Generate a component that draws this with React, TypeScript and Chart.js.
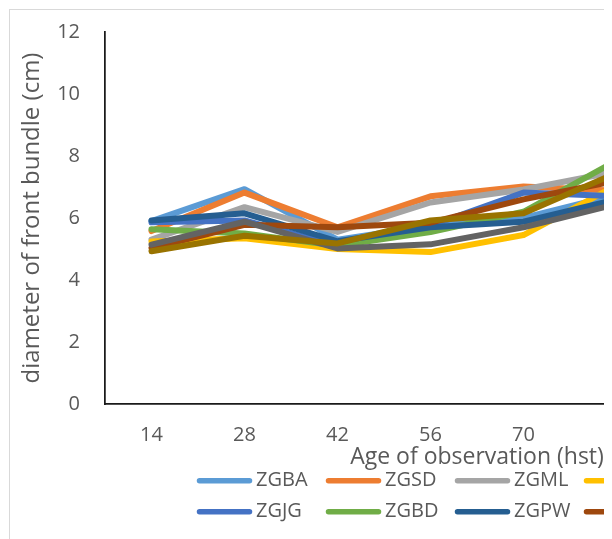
import { useEffect, useRef } from "react";
import { Chart, registerables } from "chart.js";

Chart.register(...registerables);

// Observation ages (days after planting)
const ages = ["14", "28", "42", "56", "70", "84", "98", "112"];

const seriesNames = ["ZGBA", "ZGSD", "ZGML", "ZGKR", "ZGJG", "ZGBD", "ZGPW", "ZGTM", "ZGLB", "ZGSB"];
const seriesColors = [
  "#5B9BD5", "#ED7D31", "#A5A5A5", "#FFC000", "#4472C4",
  "#70AD47", "#255E91", "#9E480E", "#636363", "#997300",
];

// Front bundle diameter (cm) per accession
const zgba = [5.9, 6.93, 5.3, 5.75, 6.0, 6.75, null, null];
const zgsd = [5.58, 6.82, 5.7, 6.7, 7.02, 6.88, null, null];
const zgml = [5.3, 6.35, 5.55, 6.5, 6.92, 7.5, null, null];
const zgkr = [5.24, 5.35, 5.0, 4.9, 5.45, 7.05, null, null];
const zgjg = [5.86, 5.92, 5.1, 5.75, 6.82, 6.7, null, null];
const zgbd = [5.64, 5.5, 5.1, 5.55, 6.2, 7.85, null, null];
const zgpw = [5.92, 6.15, 5.25, 5.7, 5.88, 6.6, null, null];
const zgtm = [5.03, 5.78, 5.7, 5.85, 6.6, 7.2, null, null];
const zglb = [5.14, 5.88, 5.02, 5.15, 5.7, 6.45, null, null];
const zgsb = [4.93, 5.43, 5.18, 5.92, 6.15, 7.45, null, null];

const seriesValues = [zgba, zgsd, zgml, zgkr, zgjg, zgbd, zgpw, zgtm, zglb, zgsb];

const yTicks = [0, 2, 4, 6, 8, 10, 12];

const FONT = "'Open Sans', 'Noto Sans', sans-serif";
const TEXT = "#595959";
const W = 900;
const H = 530;

// Legend laid out in fixed columns below the axis title
const columnLegend = {
  id: "columnLegend",
  afterDraw(chart: any) {
    const ctx = chart.ctx;
    const xs = chart.scales.x;
    const startX = 187;
    const colW = 129;
    const lineLen = 55;
    const rowGap = 31;
    const firstRow = xs.bottom + 9.3;
    ctx.save();
    ctx.font = `20px ${FONT}`;
    ctx.textBaseline = "middle";
    ctx.textAlign = "left";
    chart.data.datasets.forEach((ds: any, i: number) => {
      const row = Math.floor(i / 4);
      const col = i % 4;
      const y = firstRow + row * rowGap;
      if (y + 8 > chart.height) return;
      const x = startX + col * colW;
      ctx.strokeStyle = ds.borderColor;
      ctx.lineWidth = 5.5;
      ctx.lineCap = "round";
      ctx.beginPath();
      ctx.moveTo(x + 2.5, y);
      ctx.lineTo(x + lineLen - 2.5, y);
      ctx.stroke();
      ctx.fillStyle = TEXT;
      ctx.fillText(ds.label, x + 59, y);
    });
    ctx.restore();
  },
};

export default function App() {
  const canvasRef = useRef<HTMLCanvasElement | null>(null);

  useEffect(() => {
    const canvas = canvasRef.current;
    if (!canvas) return;
    const chart = new Chart(canvas, {
      type: "line",
      data: {
        labels: ages,
        datasets: seriesValues.map((vals, i) => ({
          label: seriesNames[i],
          data: vals,
          borderColor: seriesColors[i],
          backgroundColor: seriesColors[i],
          borderWidth: 6,
          pointRadius: 0,
          tension: 0,
          borderJoinStyle: "round" as const,
          borderCapStyle: "round" as const,
          order: seriesValues.length - i,
        })),
      },
      options: {
        animation: false,
        responsive: false,
        layout: { padding: { top: 22, left: 0, right: W - 839, bottom: H - 394 - 67.4 } },
        plugins: { legend: { display: false }, tooltip: { enabled: false } },
        scales: {
          x: {
            offset: true,
            grid: { display: false, drawTicks: false },
            border: { display: true, color: "#1a1a1a", width: 1.75 },
            ticks: { color: TEXT, font: { family: FONT, size: 20 }, padding: 19, maxRotation: 0, autoSkip: false },
            title: {
              display: true,
              text: "Age of observation (hst)",
              color: TEXT,
              font: { family: FONT, size: 23 },
              padding: 0,
            },
            afterFit(scale: any) {
              scale.height = 67.4;
            },
          },
          y: {
            min: 0,
            max: 12,
            grid: { display: false, drawTicks: false },
            border: { display: true, color: "#1a1a1a", width: 1.75 },
            afterBuildTicks(scale: any) {
              scale.ticks = yTicks.map((v) => ({ value: v }));
            },
            ticks: { color: TEXT, font: { family: FONT, size: 20 }, padding: 25 },
            title: {
              display: true,
              text: "diameter of front bundle (cm)",
              color: TEXT,
              font: { family: FONT, size: 24 },
              padding: { top: 8, bottom: 0 },
            },
            afterFit(scale: any) {
              scale.width = 95;
              scale.paddingTop = 12;
              scale.paddingBottom = 12;
            },
          },
        },
      },
      plugins: [columnLegend],
    });
    return () => chart.destroy();
  }, []);

  return (
    <div style={{ width: 604, height: 531, overflow: "hidden", background: "#fff" }}>
      <div
        style={{
          marginLeft: 1,
          marginTop: 1,
          width: W,
          height: H,
          border: "1px solid #d9d9d9",
          background: "#fff",
        }}
      >
        <canvas ref={canvasRef} width={W} height={H} style={{ display: "block", width: W, height: H }} />
      </div>
    </div>
  );
}
